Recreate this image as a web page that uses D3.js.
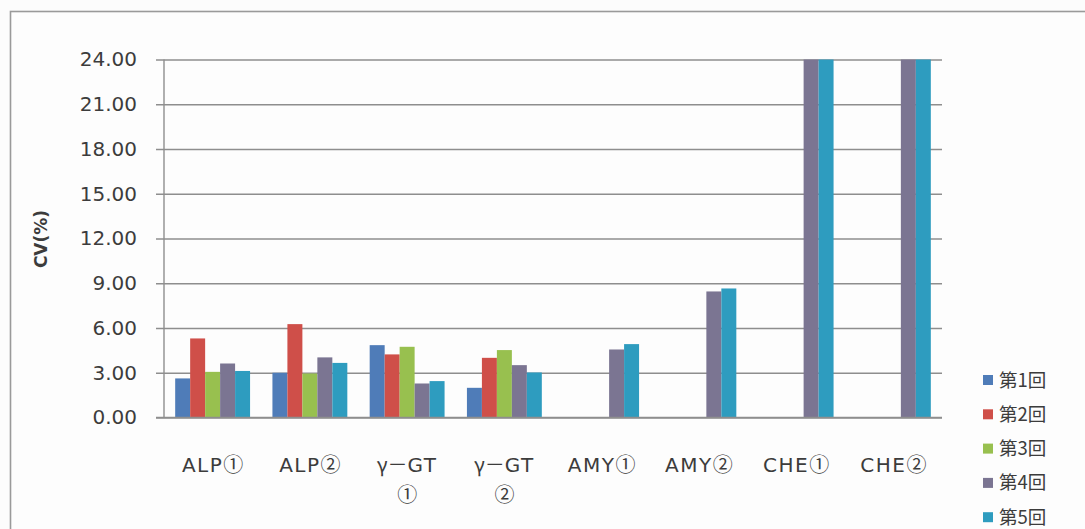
<!DOCTYPE html>
<html>
<head>
<meta charset="utf-8">
<script src="https://cdn.jsdelivr.net/npm/d3@7"></script>
<style>
  html, body { margin: 0; padding: 0; background: #fcfcfc; }
  svg { display: block; }
  text { font-family: "DejaVu Sans", "Noto Sans CJK JP", sans-serif; fill: #3c3c3c; }
</style>
</head>
<body>
<svg id="chart" width="1085" height="529"></svg>
<script>
// Test items (x-axis categories); a line break is marked with "\n"
const categories = ["ALP①", "ALP②", "γ－GT\n①", "γ－GT\n②", "AMY①", "AMY②", "CHE①", "CHE②"];
// Survey rounds
const seriesNames = ["第1回", "第2回", "第3回", "第4回", "第5回"];
// CV(%) per round; null where the round has no result
const round1 = [2.62, 3.00, 4.85, 1.99, null, null, null, null];
const round2 = [5.30, 6.26, 4.23, 4.00, null, null, null, null];
const round3 = [3.06, 2.95, 4.74, 4.52, null, null, null, null];
const round4 = [3.62, 4.03, 2.28, 3.51, 4.56, 8.45, 24.00, 24.00];
const round5 = [3.12, 3.66, 2.44, 3.02, 4.92, 8.65, 24.00, 24.00];
const yTicks = [0, 3, 6, 9, 12, 15, 18, 21, 24];
const colors = ["#4f7cb8", "#cf4f49", "#98c04f", "#7b7592", "#2e9cbf"];

const seriesValues = [round1, round2, round3, round4, round5];

const svg = d3.select("#chart");
const margin = { left: 164, right: 942, top: 59.5, bottom: 417.5 };
const cjkFont = "'Noto Sans CJK JP', sans-serif";
const latinFont = "'DejaVu Sans', sans-serif";

// Outer chart frame (continues past the right and bottom edges)
svg.append("rect")
  .attr("x", 10.5).attr("y", 11.5)
  .attr("width", 1200).attr("height", 700)
  .attr("fill", "#fdfdfd")
  .attr("stroke", "#9a9a9a").attr("stroke-width", 1.6);

const x0 = d3.scaleBand().domain(categories).range([margin.left, margin.right]);
const gap = x0.bandwidth() * 0.115;
const x1 = d3.scaleBand().domain(seriesNames).range([gap, x0.bandwidth() - gap]);
const y = d3.scaleLinear().domain([0, 24]).range([margin.bottom, margin.top]).clamp(true);

// Horizontal gridlines with short outward ticks
const yAxis = d3.axisLeft(y)
  .tickValues(yTicks)
  .tickFormat(d3.format(".2f"))
  .tickSize(-(margin.right - margin.left))
  .tickPadding(27);
const gy = svg.append("g")
  .attr("transform", `translate(${margin.left},0)`)
  .call(yAxis);
gy.select(".domain").remove();
gy.selectAll(".tick line")
  .attr("x1", -8)
  .attr("stroke", "#8e8e8e").attr("stroke-width", 1.4);
gy.selectAll(".tick text")
  .attr("font-size", 20)
  .attr("fill", "#3c3c3c")
  .style("font-family", latinFont);

// Vertical axis line
svg.append("line")
  .attr("x1", margin.left).attr("x2", margin.left)
  .attr("y1", margin.top).attr("y2", margin.bottom)
  .attr("stroke", "#8e8e8e").attr("stroke-width", 1.4);

// Bars
const groups = svg.append("g").selectAll("g")
  .data(seriesValues)
  .join("g")
  .attr("fill", (d, i) => colors[i]);
groups.selectAll("rect")
  .data((vals, si) => vals.map((v, ci) => ({ v, ci, si })).filter(d => d.v !== null))
  .join("rect")
  .attr("x", d => x0(categories[d.ci]) + x1(seriesNames[d.si]))
  .attr("width", x1.bandwidth())
  .attr("y", d => y(d.v))
  .attr("height", d => y(0) - y(d.v));

// Baseline redrawn over the bars
svg.append("line")
  .attr("x1", margin.left - 8).attr("x2", margin.right)
  .attr("y1", margin.bottom).attr("y2", margin.bottom)
  .attr("stroke", "#8e8e8e").attr("stroke-width", 1.4);

// Category labels: Latin runs in DejaVu, Greek / full-width / circled runs in the CJK face
function runs(line) {
  return line.match(/[A-Za-z0-9]+|[^A-Za-z0-9]+/g).map(t => ({
    t, cjk: !/^[A-Za-z0-9]+$/.test(t)
  }));
}
const xl = svg.append("g").selectAll("text")
  .data(categories)
  .join("text")
  .attr("x", d => x0(d) + x0.bandwidth() / 2)
  .attr("y", 472)
  .attr("text-anchor", "middle")
  .attr("font-size", 20);
xl.each(function (d) {
  const t = d3.select(this);
  const cx = +t.attr("x");
  d.split("\n").forEach((line, li) => {
    runs(line).forEach((r, ri) => {
      const s = t.append("tspan")
        .style("font-family", r.cjk ? cjkFont : latinFont)
        .attr("letter-spacing", r.cjk ? 0 : 1.5)
        .text(r.t);
      if (ri === 0) s.attr("x", cx).attr("dy", li === 0 ? 0 : 30);
    });
  });
});

// Y axis title
svg.append("text")
  .attr("transform", "translate(47,239) rotate(-90)")
  .attr("text-anchor", "middle")
  .attr("font-size", 17)
  .attr("font-weight", "bold")
  .attr("fill", "#3c3c3c")
  .style("font-family", latinFont)
  .text("CV(%)");

// Legend
const legend = svg.append("g").selectAll("g")
  .data(seriesNames)
  .join("g")
  .attr("transform", (d, i) => `translate(983,${380 + i * 34.3})`);
legend.append("rect")
  .attr("x", 0).attr("y", -5).attr("width", 10).attr("height", 10)
  .attr("fill", (d, i) => colors[i]);
legend.append("text")
  .attr("x", 16).attr("y", 6.5)
  .attr("font-size", 18.5)
  .style("font-family", cjkFont)
  .text(d => d);
</script>
</body>
</html>
